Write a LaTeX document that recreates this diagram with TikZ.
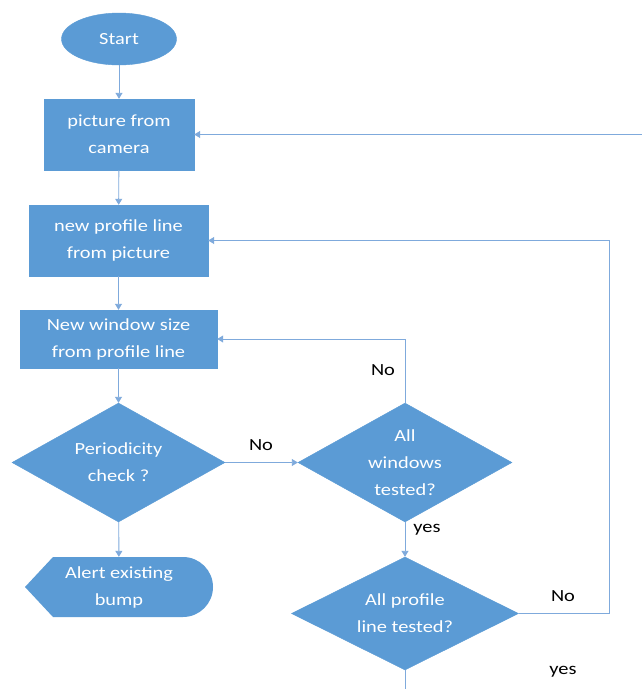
\documentclass[tikz,border=0pt]{standalone}
\usepackage{fontspec}
\setmainfont{Carlito}[FakeStretch=1.2]
\usetikzlibrary{shapes.geometric,arrows.meta}
\definecolor{fillblue}{HTML}{5B9BD5}
\definecolor{lineblue}{HTML}{7FAADC}
\begin{document}
\begin{tikzpicture}[x=1pt,y=-1pt,
  shapetxt/.style={text=white, font=\fontsize{17}{27}\selectfont, align=center, inner sep=0pt},
  shapebox/.style={shapetxt, fill=fillblue, draw=fillblue},
  procbox/.style={shapebox, rectangle},
  termnode/.style={shapebox, ellipse},
  decision/.style={shapebox, diamond, aspect=1.8},
  conn/.style={draw=lineblue, line width=0.9pt, -{Triangle[width=7pt,length=6pt]}},
  plainline/.style={draw=lineblue, line width=0.9pt},
  lbl/.style={font=\fontsize{17}{20}\selectfont, text=black, inner sep=0pt}]
\useasboundingbox (0,0) rectangle (642,689);
\fill[white] (0,0) rectangle (642,689);

% shapes
\node[termnode, minimum width=115pt, minimum height=52pt] (start) at (119,39) {Start};
\node[procbox, minimum width=150pt, minimum height=71pt] (cam) at (119,134.5) {picture from\\camera};
\node[procbox, minimum width=179pt, minimum height=71pt] (prof) at (118.5,240.5) {new profile line\\from picture};
\node[procbox, minimum width=197pt, minimum height=58pt] (win) at (118.5,339) {New window size\\from profile line};
\node[decision, minimum width=213pt, minimum height=119pt] (per) at (118.5,462.5) {Periodicity\\check ?};
\node[decision, minimum width=214pt, minimum height=119pt] (allw) at (405,462.5) {All\\windows\\tested?};
\node[decision, minimum width=227pt, minimum height=113pt] (allp) at (405,613.5) {All profile\\line tested?};

% display shape (alert)
\fill[fillblue] (25,587) -- (53,557) -- (183,557) arc[start angle=-90, end angle=90, radius=30] -- (53,617) -- cycle;
\node[shapetxt, rectangle, minimum width=188pt, minimum height=60pt] (alert) at (119,587) {Alert existing\\bump};

% connectors
\coordinate (camin) at (642,134.5);
\coordinate (rr) at (609,0);
\coordinate (bottomout) at (405,689);
\draw[conn] (start) -- (cam);
\draw[conn] (cam) -- (prof);
\draw[conn] (prof) -- (win);
\draw[conn] (win) -- (per);
\draw[conn] (per) -- (alert);
\draw[conn] (per.east) -- (allw.west);
\draw[conn] (allw.north) |- (win.east);
\draw[conn] (allw.south) -- (allp.north);
\draw[conn] (allp.east) -- (allp.east -| rr) |- (prof.east);
\draw[conn] (camin) -- (cam.east);
\draw[plainline] (allp.south) -- (bottomout);

% labels
\node[lbl] (lno1) at (261,445) {No};
\node[lbl] (lno2) at (383,370) {No};
\node[lbl] (lyes1) at (427,530) {yes};
\node[lbl] (lno3) at (563,596) {No};
\node[lbl] (lyes2) at (563,672) {yes};
\end{tikzpicture}
\end{document}
